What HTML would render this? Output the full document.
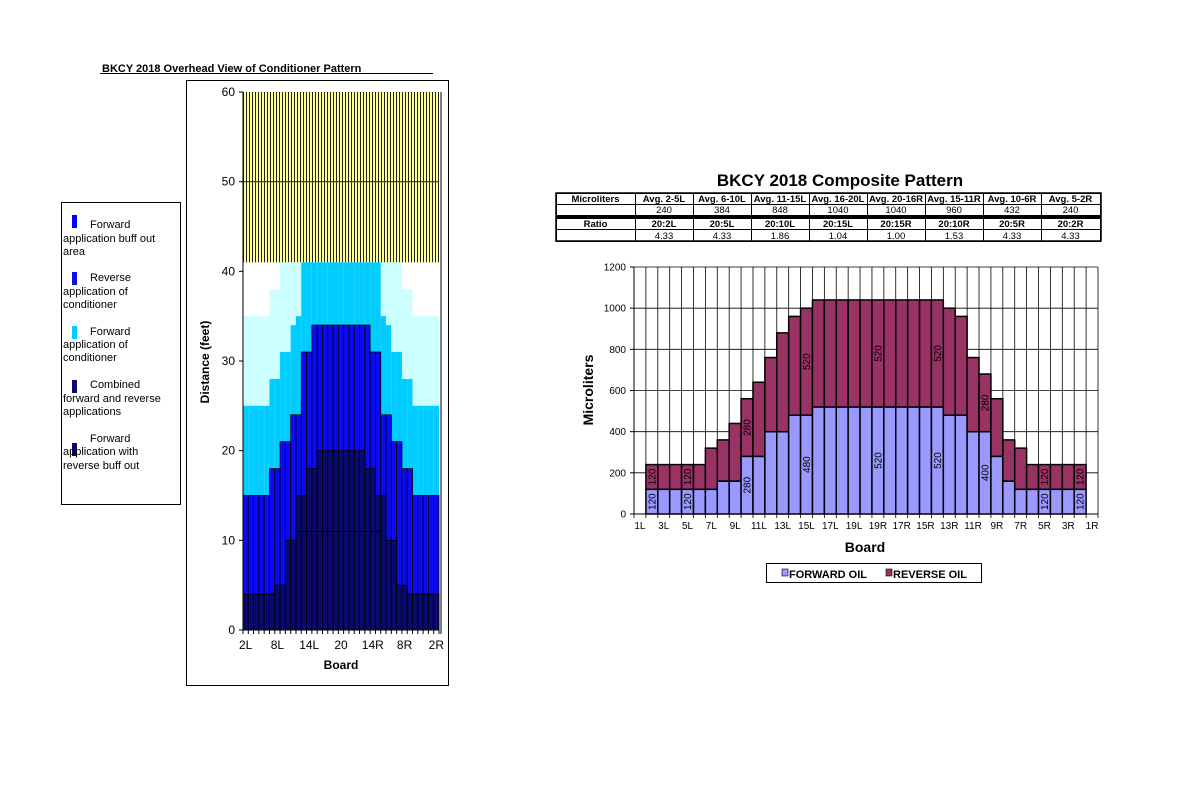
<!DOCTYPE html>
<html><head><meta charset="utf-8"><style>
body{margin:0;background:#fff;}
svg{display:block;font-family:"Liberation Sans",sans-serif;}
</style></head><body>
<svg id="root" width="1200" height="792" viewBox="0 0 1200 792">
<defs>
<pattern id="hatch" width="3" height="4" patternUnits="userSpaceOnUse">
<rect width="3" height="4" fill="#ffff99"/><rect x="0" width="1" height="4" fill="#222"/>
</pattern>
</defs>
<text x="102" y="72" font-size="11" font-weight="bold">BKCY 2018 Overhead View of Conditioner Pattern</text>
<line x1="100" y1="73.5" x2="433" y2="73.5" stroke="#000" stroke-width="1"/>
<rect x="186.5" y="80.5" width="262" height="605" fill="none" stroke="#000"/>
<g id="leftPlot"></g>
<text transform="translate(209,362) rotate(-90)" font-size="12" font-weight="bold" text-anchor="middle">Distance (feet)</text>
<text x="341" y="669" font-size="12" font-weight="bold" text-anchor="middle">Board</text>

<g>
<rect x="61.5" y="202.5" width="119" height="302" fill="#fff" stroke="#000"/>
<rect x="72" y="215" width="5" height="13" fill="#0000ff"/>
<text font-size="11"><tspan x="90" y="228">Forward</tspan><tspan x="63" y="242">application buff out</tspan><tspan x="63" y="255">area</tspan></text>
<rect x="72" y="272" width="5" height="13" fill="#1010e0"/>
<text font-size="11"><tspan x="90" y="281">Reverse</tspan><tspan x="63" y="295">application of</tspan><tspan x="63" y="308">conditioner</tspan></text>
<rect x="72" y="326" width="5" height="13" fill="#00ccff"/>
<text font-size="11"><tspan x="90" y="335">Forward</tspan><tspan x="63" y="348">application of</tspan><tspan x="63" y="361">conditioner</tspan></text>
<rect x="72" y="380" width="5" height="13" fill="#0a0a70"/>
<text font-size="11"><tspan x="90" y="388">Combined</tspan><tspan x="63" y="402">forward and reverse</tspan><tspan x="63" y="415">applications</tspan></text>
<rect x="72" y="443" width="5" height="13" fill="#0a0a70"/>
<text font-size="11"><tspan x="90" y="442">Forward</tspan><tspan x="63" y="455">application with</tspan><tspan x="63" y="469">reverse buff out</tspan></text>
</g>

<text x="840" y="186" font-size="17" font-weight="bold" text-anchor="middle">BKCY 2018 Composite Pattern</text>
<g id="table"></g>
<g id="rightPlot"></g>
<text transform="translate(593,390) rotate(-90)" font-size="14" font-weight="bold" text-anchor="middle">Microliters</text>
<text x="865" y="552" font-size="14" font-weight="bold" text-anchor="middle">Board</text>
<g>
<rect x="766.5" y="563.5" width="215" height="19" fill="#fff" stroke="#000"/>
<rect x="782" y="569" width="6" height="7" fill="#9999ff" stroke="#000" stroke-width="0.6"/>
<text x="789" y="578" font-size="11" font-weight="bold">FORWARD OIL</text>
<rect x="886" y="569" width="6" height="7" fill="#993366" stroke="#000" stroke-width="0.6"/>
<text x="893" y="578" font-size="11" font-weight="bold">REVERSE OIL</text>
</g>
</svg>
<script>
const NS="http://www.w3.org/2000/svg";
function mk(parent,tag,attrs,txt){const e=document.createElementNS(NS,tag);for(const k in attrs)e.setAttribute(k,attrs[k]);if(txt!==undefined)e.textContent=txt;parent.appendChild(e);return e;}

// ---------- LEFT CHART DATA (feet, per board 2L..20..2R) ----------
const leftBoardLabels=["2L","8L","14L","20","14R","8R","2R"];
const leftYTicks=[0,10,20,30,40,50,60];
const lightCyanTop=[35,35,35,35,35,38,38,41,41,41,41,41,41,41,41,41,41,41,41,41,41,41,41,41,41,41,41,41,41,41,38,38,35,35,35,35,35];
const cyanTop=[25,25,25,25,25,28,28,31,31,34,35,41,41,41,41,41,41,41,41,41,41,41,41,41,41,41,35,34,31,31,28,28,25,25,25,25,25];
const blueTop=[15,15,15,15,15,18,18,21,21,24,24,31,31,34,34,34,34,34,34,34,34,34,34,34,31,31,24,24,21,21,18,18,15,15,15,15,15];
const navyTop=[4,4,4,4,4,4,5,5,10,10,15,15,18,18,20,20,20,20,20,20,20,20,20,18,18,15,15,10,10,5,5,4,4,4,4,4,4];
const oilBoundary=41, laneEnd=60;

const L={x0:243,x1:439,y0:630,y1:92,max:60};
const lcw=(L.x1-L.x0)/lightCyanTop.length;
const lx=i=>L.x0+i*lcw;
const ly=v=>L.y0-(v/L.max)*(L.y0-L.y1);
const lp=document.getElementById('leftPlot');
const yel=mk(lp,'rect',{x:L.x0,y:ly(laneEnd),width:L.x1-L.x0,height:ly(oilBoundary)-ly(laneEnd),fill:'url(#hatch)'});


const layers=[[lightCyanTop,'#ccffff',false,'light-cyan'],[cyanTop,'#00ccff',false,'cyan'],[blueTop,'#0a0af5',true,'blue'],[navyTop,'#0a0a6e',true,'navy']];
layers.forEach(([arr,col,brd,nm])=>{arr.forEach((v,i)=>{
  const r=mk(lp,'rect',{x:lx(i),y:ly(v),width:lcw,height:L.y0-ly(v),fill:col});
  if(brd){r.setAttribute('stroke','#000');r.setAttribute('stroke-width','0.8');}
  
  
});});
mk(lp,'line',{x1:lx(10),x2:lx(26),y1:ly(11),y2:ly(11),stroke:'#000','stroke-width':1});
mk(lp,'line',{x1:L.x0,x2:L.x1,y1:ly(50),y2:ly(50),stroke:'#333','stroke-width':1.2});
mk(lp,'line',{x1:L.x0,x2:L.x0,y1:L.y1,y2:L.y0,stroke:'#000'});
mk(lp,'line',{x1:L.x0,x2:L.x1,y1:L.y0,y2:L.y0,stroke:'#000'});
mk(lp,'line',{x1:L.x1+2,x2:L.x1+2,y1:L.y1,y2:L.y0+4,stroke:'#000'});
leftYTicks.forEach(t=>{
  mk(lp,'line',{x1:L.x0-4,x2:L.x0,y1:ly(t),y2:ly(t),stroke:'#000'});
  const tx=mk(lp,'text',{x:L.x0-8,y:ly(t)+4,'font-size':12,'text-anchor':'end'},String(t));
  
  
});
for(let i=0;i<=lightCyanTop.length;i++)mk(lp,'line',{x1:lx(i),x2:lx(i),y1:L.y0,y2:L.y0+4,stroke:'#000'});
leftBoardLabels.forEach((s,k)=>{
  const tx=mk(lp,'text',{x:lx(k*6)+lcw/2,y:L.y0+19,'font-size':12,'text-anchor':'middle'},s);
  
  
});

// ---------- TABLE ----------
const tblHeaders=["Avg. 2-5L","Avg. 6-10L","Avg. 11-15L","Avg. 16-20L","Avg. 20-16R","Avg. 15-11R","Avg. 10-6R","Avg. 5-2R"];
const tblMicro=["240","384","848","1040","1040","960","432","240"];
const tblRatioHdr=["20:2L","20:5L","20:10L","20:15L","20:15R","20:10R","20:5R","20:2R"];
const tblRatio=["4.33","4.33","1.86","1.04","1.00","1.53","4.33","4.33"];
const tb=document.getElementById('table');
const cx=[556,635,693,751,809,867,925,983,1041,1100];
const rows=[[193,204,'Microliters',tblHeaders,true],[204,215,'',tblMicro,false],[218,229,'Ratio',tblRatioHdr,true],[229,241,'',tblRatio,false]];
rows.forEach(([y0,y1,first,vals,bold],ri)=>{
  [first,...vals].forEach((t,ci)=>{
    mk(tb,'rect',{x:cx[ci]+0.5,y:y0+0.5,width:cx[ci+1]-cx[ci],height:y1-y0,fill:'#fff',stroke:'#000','stroke-width':1});
    if(t){const tx=mk(tb,'text',{x:(cx[ci]+cx[ci+1])/2,y:y1-2,'font-size':9.5,'font-weight':bold?'bold':'normal','text-anchor':'middle'},t);
      
      }
  });
});
mk(tb,'rect',{x:556,y:193,width:545,height:48,fill:'none',stroke:'#000','stroke-width':1.5});
mk(tb,'line',{x1:556,x2:1101,y1:216.5,y2:216.5,stroke:'#000','stroke-width':3});

// ---------- RIGHT CHART DATA ----------
const rightCategories=["1L","2L","3L","4L","5L","6L","7L","8L","9L","10L","11L","12L","13L","14L","15L","16L","17L","18L","19L","20","19R","18R","17R","16R","15R","14R","13R","12R","11R","10R","9R","8R","7R","6R","5R","4R","3R","2R","1R"];
const forwardOil=[0,120,120,120,120,120,120,160,160,280,280,400,400,480,480,520,520,520,520,520,520,520,520,520,520,520,480,480,400,400,280,160,120,120,120,120,120,120,0];
const reverseOil=[0,120,120,120,120,120,200,200,280,280,360,360,480,480,520,520,520,520,520,520,520,520,520,520,520,520,520,480,360,280,280,200,200,120,120,120,120,120,0];
const fwdLabelIdx=[1,4,9,14,20,25,29,34,37];
const revLabelIdx=[1,4,9,14,20,25,29,34,37];
const rightYTicks=[0,200,400,600,800,1000,1200];

const R={x0:634,x1:1098,y0:514,y1:267,max:1200};
const cw=(R.x1-R.x0)/rightCategories.length;
const rx=i=>R.x0+i*cw;
const ry=v=>R.y0-(v/R.max)*(R.y0-R.y1);
const rp=document.getElementById('rightPlot');
rightYTicks.forEach(t=>{
  mk(rp,'line',{x1:R.x0,x2:R.x1,y1:ry(t),y2:ry(t),stroke:'#000','stroke-width':0.8});
  mk(rp,'line',{x1:R.x0-4,x2:R.x0,y1:ry(t),y2:ry(t),stroke:'#000'});
  const tx=mk(rp,'text',{x:R.x0-8,y:ry(t)+3.5,'font-size':10,'text-anchor':'end'},String(t));
  
  
});
for(let i=0;i<=rightCategories.length;i++){
  mk(rp,'line',{x1:rx(i),x2:rx(i),y1:R.y1,y2:R.y0+4,stroke:'#000','stroke-width':0.8});
}
rightCategories.forEach((c,i)=>{
  const f=forwardOil[i],r=reverseOil[i];
  if(f>0){const b=mk(rp,'rect',{x:rx(i),y:ry(f),width:cw,height:ry(0)-ry(f),fill:'#9999ff',stroke:'#000','stroke-width':1.5});
    
    }
  if(r>0){const b=mk(rp,'rect',{x:rx(i),y:ry(f+r),width:cw,height:ry(f)-ry(f+r),fill:'#993366',stroke:'#000','stroke-width':1.5});
    
    }
  if(i%2===0){const tx=mk(rp,'text',{x:rx(i)+cw/2,y:R.y0+15,'font-size':10,'text-anchor':'middle'},c);
    
    }
});
fwdLabelIdx.forEach(i=>{
  const f=forwardOil[i];const cxp=rx(i)+cw/2+3.5,cyp=ry(f/2);
  const tx=mk(rp,'text',{x:cxp,y:cyp,'font-size':10,'text-anchor':'middle',transform:`rotate(-90 ${cxp} ${cyp})`},String(f));
  
  
});
revLabelIdx.forEach(i=>{
  const f=forwardOil[i],r=reverseOil[i];const cxp=rx(i)+cw/2+3.5,cyp=ry(f+r/2);
  const tx=mk(rp,'text',{x:cxp,y:cyp,'font-size':10,'text-anchor':'middle',transform:`rotate(-90 ${cxp} ${cyp})`},String(r));
  
  
});
mk(rp,'line',{x1:R.x0,x2:R.x0,y1:R.y1,y2:R.y0,stroke:'#000'});
mk(rp,'line',{x1:R.x0,x2:R.x1,y1:R.y0,y2:R.y0,stroke:'#000'});
</script>
</body></html>
